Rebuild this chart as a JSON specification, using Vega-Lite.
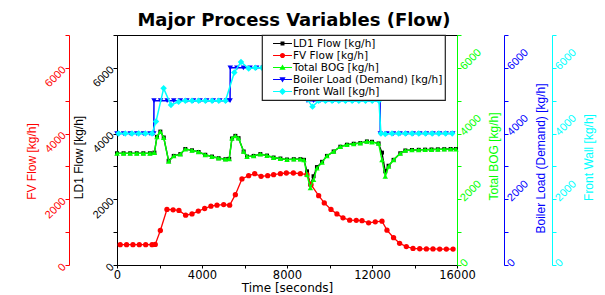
{
  "$schema": "https://vega.github.io/schema/vega-lite/v6.json",
  "width": 340,
  "height": 230,
  "autosize": "none",
  "padding": {"left": 117, "top": 35, "right": 148, "bottom": 30},
  "background": "white",
  "title": {"text": "Major Process Variables (Flow)", "font": "DejaVu Sans", "fontSize": 18, "fontWeight": "bold", "color": "black", "anchor": "middle", "offset": 1, "dx": 7},
  "datasets": {
    "ld1": [{"t":0,"v":3400},{"t":310,"v":3400},{"t":620,"v":3400},{"t":930,"v":3400},{"t":1240,"v":3400},{"t":1550,"v":3400},{"t":1760,"v":3420},{"t":1880,"v":3900},{"t":2040,"v":4060},{"t":2200,"v":3880},{"t":2430,"v":3170},{"t":2670,"v":3320},{"t":2980,"v":3375},{"t":3215,"v":3530},{"t":3530,"v":3490},{"t":3840,"v":3440},{"t":4155,"v":3355},{"t":4470,"v":3300},{"t":4780,"v":3250},{"t":5100,"v":3220},{"t":5280,"v":3230},{"t":5410,"v":3850},{"t":5570,"v":3930},{"t":5720,"v":3860},{"t":5960,"v":3455},{"t":6120,"v":3300},{"t":6430,"v":3320},{"t":6745,"v":3375},{"t":7060,"v":3330},{"t":7370,"v":3270},{"t":7690,"v":3240},{"t":8000,"v":3210},{"t":8320,"v":3220},{"t":8630,"v":3220},{"t":8800,"v":3200},{"t":8940,"v":2850},{"t":9100,"v":2450},{"t":9250,"v":2700},{"t":9410,"v":2980},{"t":9650,"v":3140},{"t":9880,"v":3320},{"t":10195,"v":3455},{"t":10510,"v":3600},{"t":10820,"v":3660},{"t":11140,"v":3690},{"t":11450,"v":3710},{"t":11760,"v":3760},{"t":12000,"v":3750},{"t":12310,"v":3700},{"t":12470,"v":3420},{"t":12625,"v":2850},{"t":12780,"v":3020},{"t":13015,"v":3200},{"t":13330,"v":3400},{"t":13570,"v":3485},{"t":13880,"v":3500},{"t":14200,"v":3505},{"t":14500,"v":3510},{"t":14800,"v":3515},{"t":15100,"v":3520},{"t":15400,"v":3525},{"t":15700,"v":3530},{"t":15950,"v":3530}],
    "fv": [{"t":150,"v":620},{"t":450,"v":620},{"t":750,"v":620},{"t":1050,"v":620},{"t":1350,"v":620},{"t":1650,"v":620},{"t":1800,"v":625},{"t":2040,"v":1050},{"t":2350,"v":1690},{"t":2640,"v":1680},{"t":2915,"v":1660},{"t":3230,"v":1515},{"t":3530,"v":1555},{"t":3825,"v":1640},{"t":4125,"v":1720},{"t":4420,"v":1790},{"t":4705,"v":1820},{"t":5020,"v":1840},{"t":5300,"v":1820},{"t":5570,"v":2140},{"t":5880,"v":2620},{"t":6195,"v":2720},{"t":6480,"v":2780},{"t":6780,"v":2700},{"t":7090,"v":2720},{"t":7370,"v":2750},{"t":7690,"v":2780},{"t":7970,"v":2800},{"t":8300,"v":2800},{"t":8630,"v":2780},{"t":8940,"v":2750},{"t":9130,"v":2445},{"t":9490,"v":2110},{"t":9755,"v":1890},{"t":10070,"v":1690},{"t":10350,"v":1555},{"t":10635,"v":1435},{"t":10950,"v":1365},{"t":11260,"v":1360},{"t":11530,"v":1350},{"t":11840,"v":1285},{"t":12155,"v":1315},{"t":12470,"v":1335},{"t":12705,"v":1060},{"t":13015,"v":830},{"t":13300,"v":660},{"t":13615,"v":560},{"t":13930,"v":505},{"t":14245,"v":495},{"t":14560,"v":490},{"t":14870,"v":490},{"t":15185,"v":485},{"t":15500,"v":485},{"t":15815,"v":485}],
    "bog": [{"t":0,"v":3400},{"t":310,"v":3400},{"t":620,"v":3400},{"t":930,"v":3400},{"t":1240,"v":3400},{"t":1550,"v":3400},{"t":1760,"v":3420},{"t":1880,"v":3900},{"t":2040,"v":4060},{"t":2200,"v":3880},{"t":2430,"v":3150},{"t":2670,"v":3320},{"t":2980,"v":3375},{"t":3215,"v":3530},{"t":3530,"v":3490},{"t":3840,"v":3440},{"t":4155,"v":3355},{"t":4470,"v":3300},{"t":4780,"v":3250},{"t":5100,"v":3220},{"t":5280,"v":3230},{"t":5410,"v":3860},{"t":5570,"v":3930},{"t":5720,"v":3860},{"t":5960,"v":3455},{"t":6120,"v":3300},{"t":6430,"v":3320},{"t":6745,"v":3375},{"t":7060,"v":3330},{"t":7370,"v":3270},{"t":7690,"v":3240},{"t":8000,"v":3210},{"t":8320,"v":3220},{"t":8630,"v":3220},{"t":8800,"v":3200},{"t":8940,"v":2750},{"t":9100,"v":2350},{"t":9250,"v":2600},{"t":9410,"v":2950},{"t":9650,"v":3120},{"t":9880,"v":3320},{"t":10195,"v":3455},{"t":10510,"v":3600},{"t":10820,"v":3660},{"t":11140,"v":3690},{"t":11450,"v":3710},{"t":11760,"v":3760},{"t":12000,"v":3740},{"t":12310,"v":3700},{"t":12470,"v":3200},{"t":12625,"v":2700},{"t":12780,"v":3000},{"t":13015,"v":3200},{"t":13330,"v":3400},{"t":13570,"v":3485},{"t":13880,"v":3500},{"t":14200,"v":3505},{"t":14500,"v":3510},{"t":14800,"v":3515},{"t":15100,"v":3520},{"t":15400,"v":3525},{"t":15700,"v":3530},{"t":15950,"v":3530}],
    "boiler": [{"t":0,"v":4000},{"t":310,"v":4000},{"t":620,"v":4000},{"t":930,"v":4000},{"t":1240,"v":4000},{"t":1550,"v":4000},{"t":1730,"v":4000},{"t":1740,"v":5000},{"t":2050,"v":5000},{"t":2360,"v":5000},{"t":2670,"v":5000},{"t":2980,"v":5000},{"t":3290,"v":5000},{"t":3600,"v":5000},{"t":3910,"v":5000},{"t":4220,"v":5000},{"t":4530,"v":5000},{"t":4840,"v":5000},{"t":5150,"v":5000},{"t":5320,"v":5000},{"t":5330,"v":6000},{"t":5640,"v":6000},{"t":5950,"v":6000},{"t":6260,"v":6000},{"t":6570,"v":6000},{"t":6880,"v":6000},{"t":7190,"v":6000},{"t":7500,"v":6000},{"t":7810,"v":6000},{"t":8120,"v":6000},{"t":8430,"v":6000},{"t":8740,"v":6000},{"t":8930,"v":6000},{"t":8940,"v":5000},{"t":9250,"v":5000},{"t":9560,"v":5000},{"t":9870,"v":5000},{"t":10180,"v":5000},{"t":10490,"v":5000},{"t":10800,"v":5000},{"t":11110,"v":5000},{"t":11420,"v":5000},{"t":11730,"v":5000},{"t":12040,"v":5000},{"t":12380,"v":5000},{"t":12390,"v":4000},{"t":12700,"v":4000},{"t":13010,"v":4000},{"t":13320,"v":4000},{"t":13630,"v":4000},{"t":13940,"v":4000},{"t":14250,"v":4000},{"t":14560,"v":4000},{"t":14870,"v":4000},{"t":15180,"v":4000},{"t":15490,"v":4000},{"t":15800,"v":4000}],
    "wall": [{"t":75,"v":4000},{"t":390,"v":4000},{"t":705,"v":4000},{"t":1020,"v":4000},{"t":1335,"v":4000},{"t":1650,"v":4000},{"t":1835,"v":4364},{"t":2195,"v":5376},{"t":2540,"v":4870},{"t":2900,"v":4970},{"t":3215,"v":5000},{"t":3530,"v":5000},{"t":3845,"v":5000},{"t":4160,"v":5000},{"t":4475,"v":5000},{"t":4790,"v":5000},{"t":5105,"v":5000},{"t":5520,"v":5860},{"t":5835,"v":6180},{"t":6195,"v":5980},{"t":6510,"v":6000},{"t":6825,"v":6000},{"t":7140,"v":6000},{"t":7455,"v":6000},{"t":7770,"v":6000},{"t":8085,"v":6000},{"t":8400,"v":6000},{"t":8715,"v":6000},{"t":8940,"v":5050},{"t":9200,"v":4820},{"t":9490,"v":5000},{"t":9805,"v":5000},{"t":10120,"v":5000},{"t":10435,"v":5000},{"t":10750,"v":5000},{"t":11065,"v":5000},{"t":11380,"v":5000},{"t":11695,"v":5000},{"t":12010,"v":5000},{"t":12325,"v":5000},{"t":12420,"v":4000},{"t":12625,"v":3990},{"t":12940,"v":4000},{"t":13255,"v":4000},{"t":13570,"v":4000},{"t":13885,"v":4000},{"t":14200,"v":4000},{"t":14515,"v":4000},{"t":14830,"v":4000},{"t":15145,"v":4000},{"t":15460,"v":4000},{"t":15775,"v":4000}],
    "legend": [{"series":"LD1 Flow [kg/h]"},{"series":"FV Flow [kg/h]"},{"series":"Total BOG [kg/h]"},{"series":"Boiler Load (Demand) [kg/h]"},{"series":"Front Wall [kg/h]"}]
  },
  "layer": [
    {
      "data": {"name": "ld1"},
      "mark": {"type": "line", "color": "black", "strokeWidth": 1.3, "point": {"shape": "square", "size": 16, "filled": true, "color": "black"}},
      "encoding": {
        "x": {"field": "t", "type": "quantitative", "scale": {"domain": [0, 16000], "nice": false},
          "axis": {"title": "Time [seconds]", "values": [0,2000,4000,6000,8000,10000,12000,14000,16000], "labelExpr": "datum.value % 4000 === 0 ? datum.label : ''", "format": "d", "labelAngle": 0, "tickSize": 3, "labelPadding": 1, "labelFont": "DejaVu Sans", "labelFontSize": 11.5, "titleFont": "DejaVu Sans", "titleFontSize": 12, "titleY": 22, "titleBaseline": "middle", "domainColor": "black", "tickColor": "black", "labelColor": "black", "titleColor": "black", "labelFlush": false, "labelOverlap": false}},
        "y": {"field": "v", "type": "quantitative", "scale": {"domain": [0, 7000], "nice": false},
          "axis": {"orient": "left", "offset": 0, "title": "LD1 Flow [kg/h]", "values": [0,1000,2000,3000,4000,5000,6000,7000], "labelExpr": "datum.value % 2000 === 0 ? datum.label : ''", "format": "d", "labelAngle": -45, "labelAlign": "right", "labelBaseline": "middle", "labelPadding": 1, "titleAngle": 270, "titleX": -39, "titleY": 122, "titleAlign": "center", "titleBaseline": "middle", "domainColor": "black", "tickColor": "black", "labelColor": "black", "titleColor": "black", "labelOverlap": false}}
      }
    },
    {
      "data": {"name": "fv"},
      "mark": {"type": "line", "color": "#ff0000", "strokeWidth": 1.3, "point": {"shape": "circle", "size": 28, "filled": true, "color": "#ff0000"}},
      "encoding": {
        "x": {"field": "t", "type": "quantitative", "scale": {"domain": [0, 16000], "nice": false},
          "axis": {"title": "Time [seconds]", "values": [0,2000,4000,6000,8000,10000,12000,14000,16000], "labelExpr": "datum.value % 4000 === 0 ? datum.label : ''", "format": "d", "labelAngle": 0, "tickSize": 3, "labelPadding": 1, "labelFont": "DejaVu Sans", "labelFontSize": 11.5, "titleFont": "DejaVu Sans", "titleFontSize": 12, "titleY": 22, "titleBaseline": "middle", "domainColor": "black", "tickColor": "black", "labelColor": "black", "titleColor": "black", "labelFlush": false, "labelOverlap": false}},
        "y": {"field": "v", "type": "quantitative", "scale": {"domain": [0, 7000], "nice": false},
          "axis": {"orient": "left", "offset": 48, "title": "FV Flow [kg/h]", "values": [0,1000,2000,3000,4000,5000,6000,7000], "labelExpr": "datum.value % 2000 === 0 ? datum.label : ''", "format": "d", "labelAngle": -45, "labelAlign": "right", "labelBaseline": "middle", "labelPadding": 1, "titleAngle": 270, "titleX": -38, "titleY": 126, "titleAlign": "center", "titleBaseline": "middle", "domainColor": "#ff0000", "tickColor": "#ff0000", "labelColor": "#ff0000", "titleColor": "#ff0000", "labelOverlap": false}}
      }
    },
    {
      "data": {"name": "bog"},
      "mark": {"type": "line", "color": "#00ff00", "strokeWidth": 1.5, "point": {"shape": "triangle-up", "size": 30, "filled": true, "color": "#00ff00"}},
      "encoding": {
        "x": {"field": "t", "type": "quantitative", "scale": {"domain": [0, 16000], "nice": false},
          "axis": {"title": "Time [seconds]", "values": [0,2000,4000,6000,8000,10000,12000,14000,16000], "labelExpr": "datum.value % 4000 === 0 ? datum.label : ''", "format": "d", "labelAngle": 0, "tickSize": 3, "labelPadding": 1, "labelFont": "DejaVu Sans", "labelFontSize": 11.5, "titleFont": "DejaVu Sans", "titleFontSize": 12, "titleY": 22, "titleBaseline": "middle", "domainColor": "black", "tickColor": "black", "labelColor": "black", "titleColor": "black", "labelFlush": false, "labelOverlap": false}},
        "y": {"field": "v", "type": "quantitative", "scale": {"domain": [0, 7000], "nice": false},
          "axis": {"orient": "right", "offset": 0, "title": "Total BOG [kg/h]", "values": [0,1000,2000,3000,4000,5000,6000,7000], "labelExpr": "datum.value % 2000 === 0 ? datum.label : ''", "format": "d", "labelAngle": -45, "labelAlign": "left", "labelBaseline": "middle", "labelPadding": 1, "titleAngle": 270, "titleX": 36, "titleY": 121, "titleAlign": "center", "titleBaseline": "middle", "domainColor": "#00ff00", "tickColor": "#00ff00", "labelColor": "#00ff00", "titleColor": "#00ff00", "labelOverlap": false}}
      }
    },
    {
      "data": {"name": "boiler"},
      "mark": {"type": "line", "color": "#0000ff", "strokeWidth": 1.5, "point": {"shape": "triangle-down", "size": 30, "filled": true, "color": "#0000ff"}},
      "encoding": {
        "x": {"field": "t", "type": "quantitative", "scale": {"domain": [0, 16000], "nice": false},
          "axis": {"title": "Time [seconds]", "values": [0,2000,4000,6000,8000,10000,12000,14000,16000], "labelExpr": "datum.value % 4000 === 0 ? datum.label : ''", "format": "d", "labelAngle": 0, "tickSize": 3, "labelPadding": 1, "labelFont": "DejaVu Sans", "labelFontSize": 11.5, "titleFont": "DejaVu Sans", "titleFontSize": 12, "titleY": 22, "titleBaseline": "middle", "domainColor": "black", "tickColor": "black", "labelColor": "black", "titleColor": "black", "labelFlush": false, "labelOverlap": false}},
        "y": {"field": "v", "type": "quantitative", "scale": {"domain": [0, 7000], "nice": false},
          "axis": {"orient": "right", "offset": 47, "title": "Boiler Load (Demand) [kg/h]", "values": [0,1000,2000,3000,4000,5000,6000,7000], "labelExpr": "datum.value % 2000 === 0 ? datum.label : ''", "format": "d", "labelAngle": -45, "labelAlign": "left", "labelBaseline": "middle", "labelPadding": 1, "titleAngle": 270, "titleX": 36, "titleY": 123, "titleAlign": "center", "titleBaseline": "middle", "domainColor": "#0000ff", "tickColor": "#0000ff", "labelColor": "#0000ff", "titleColor": "#0000ff", "labelOverlap": false}}
      }
    },
    {
      "data": {"name": "wall"},
      "mark": {"type": "line", "color": "#00ffff", "strokeWidth": 1.5, "point": {"shape": "diamond", "size": 42, "filled": true, "color": "#00ffff"}},
      "encoding": {
        "x": {"field": "t", "type": "quantitative", "scale": {"domain": [0, 16000], "nice": false},
          "axis": {"title": "Time [seconds]", "values": [0,2000,4000,6000,8000,10000,12000,14000,16000], "labelExpr": "datum.value % 4000 === 0 ? datum.label : ''", "format": "d", "labelAngle": 0, "tickSize": 3, "labelPadding": 1, "labelFont": "DejaVu Sans", "labelFontSize": 11.5, "titleFont": "DejaVu Sans", "titleFontSize": 12, "titleY": 22, "titleBaseline": "middle", "domainColor": "black", "tickColor": "black", "labelColor": "black", "titleColor": "black", "labelFlush": false, "labelOverlap": false}},
        "y": {"field": "v", "type": "quantitative", "scale": {"domain": [0, 7000], "nice": false},
          "axis": {"orient": "right", "offset": 95, "title": "Front Wall [kg/h]", "values": [0,1000,2000,3000,4000,5000,6000,7000], "labelExpr": "datum.value % 2000 === 0 ? datum.label : ''", "format": "d", "labelAngle": -45, "labelAlign": "left", "labelBaseline": "middle", "labelPadding": 1, "titleAngle": 270, "titleX": 36, "titleY": 122, "titleAlign": "center", "titleBaseline": "middle", "domainColor": "#00ffff", "tickColor": "#00ffff", "labelColor": "#00ffff", "titleColor": "#00ffff", "labelOverlap": false}}
      }
    },
    {
      "data": {"name": "legend"},
      "mark": {"type": "point", "filled": true, "opacity": 0},
      "encoding": {
        "color": {"field": "series", "type": "nominal",
          "scale": {"domain": ["LD1 Flow [kg/h]","FV Flow [kg/h]","Total BOG [kg/h]","Boiler Load (Demand) [kg/h]","Front Wall [kg/h]"], "range": ["#000000","#ff0000","#00ff00","#0000ff","#00ffff"]},
          "legend": {"orient": "none", "legendX": 145, "legendY": 0, "title": null}},
        "shape": {"field": "series", "type": "nominal",
          "scale": {"domain": ["LD1 Flow [kg/h]","FV Flow [kg/h]","Total BOG [kg/h]","Boiler Load (Demand) [kg/h]","Front Wall [kg/h]"],
            "range": [
              "M0.42,-0.09H3.58V0.09H0.42Z M1.67,-0.33H2.33V0.33H1.67Z",
              "M0.42,-0.09H3.58V0.09H0.42Z M1.57,0A0.43,0.43 0 1,1 2.43,0A0.43,0.43 0 1,1 1.57,0Z",
              "M0.42,-0.09H3.58V0.09H0.42Z M2,-0.52L2.52,0.38L1.48,0.38Z",
              "M0.42,-0.09H3.58V0.09H0.42Z M2,0.52L1.48,-0.38L2.52,-0.38Z",
              "M0.42,-0.09H3.58V0.09H0.42Z M2,-0.58L2.58,0L2,0.58L1.42,0Z"
            ]},
          "legend": {"orient": "none", "legendX": 145, "legendY": 0, "title": null}}
      }
    }
  ],
  "resolve": {"scale": {"y": "independent"}},
  "config": {
    "view": {"stroke": "black", "strokeWidth": 1},
    "axis": {"labelFont": "Liberation Sans", "titleFont": "Liberation Sans", "labelFontSize": 11, "titleFontSize": 12, "titleFontWeight": "normal", "grid": false, "tickSize": 4, "domainWidth": 1, "tickWidth": 1},
    "legend": {"strokeColor": "#222222", "fillColor": "white", "padding": 2.5, "labelFont": "DejaVu Sans", "labelFontSize": 10.5, "labelColor": "black", "symbolSize": 144, "rowPadding": 0, "labelOffset": 16.5, "symbolStrokeWidth": 0, "symbolOpacity": 1, "cornerRadius": 0, "strokeWidth": 1.2}
  }
}
